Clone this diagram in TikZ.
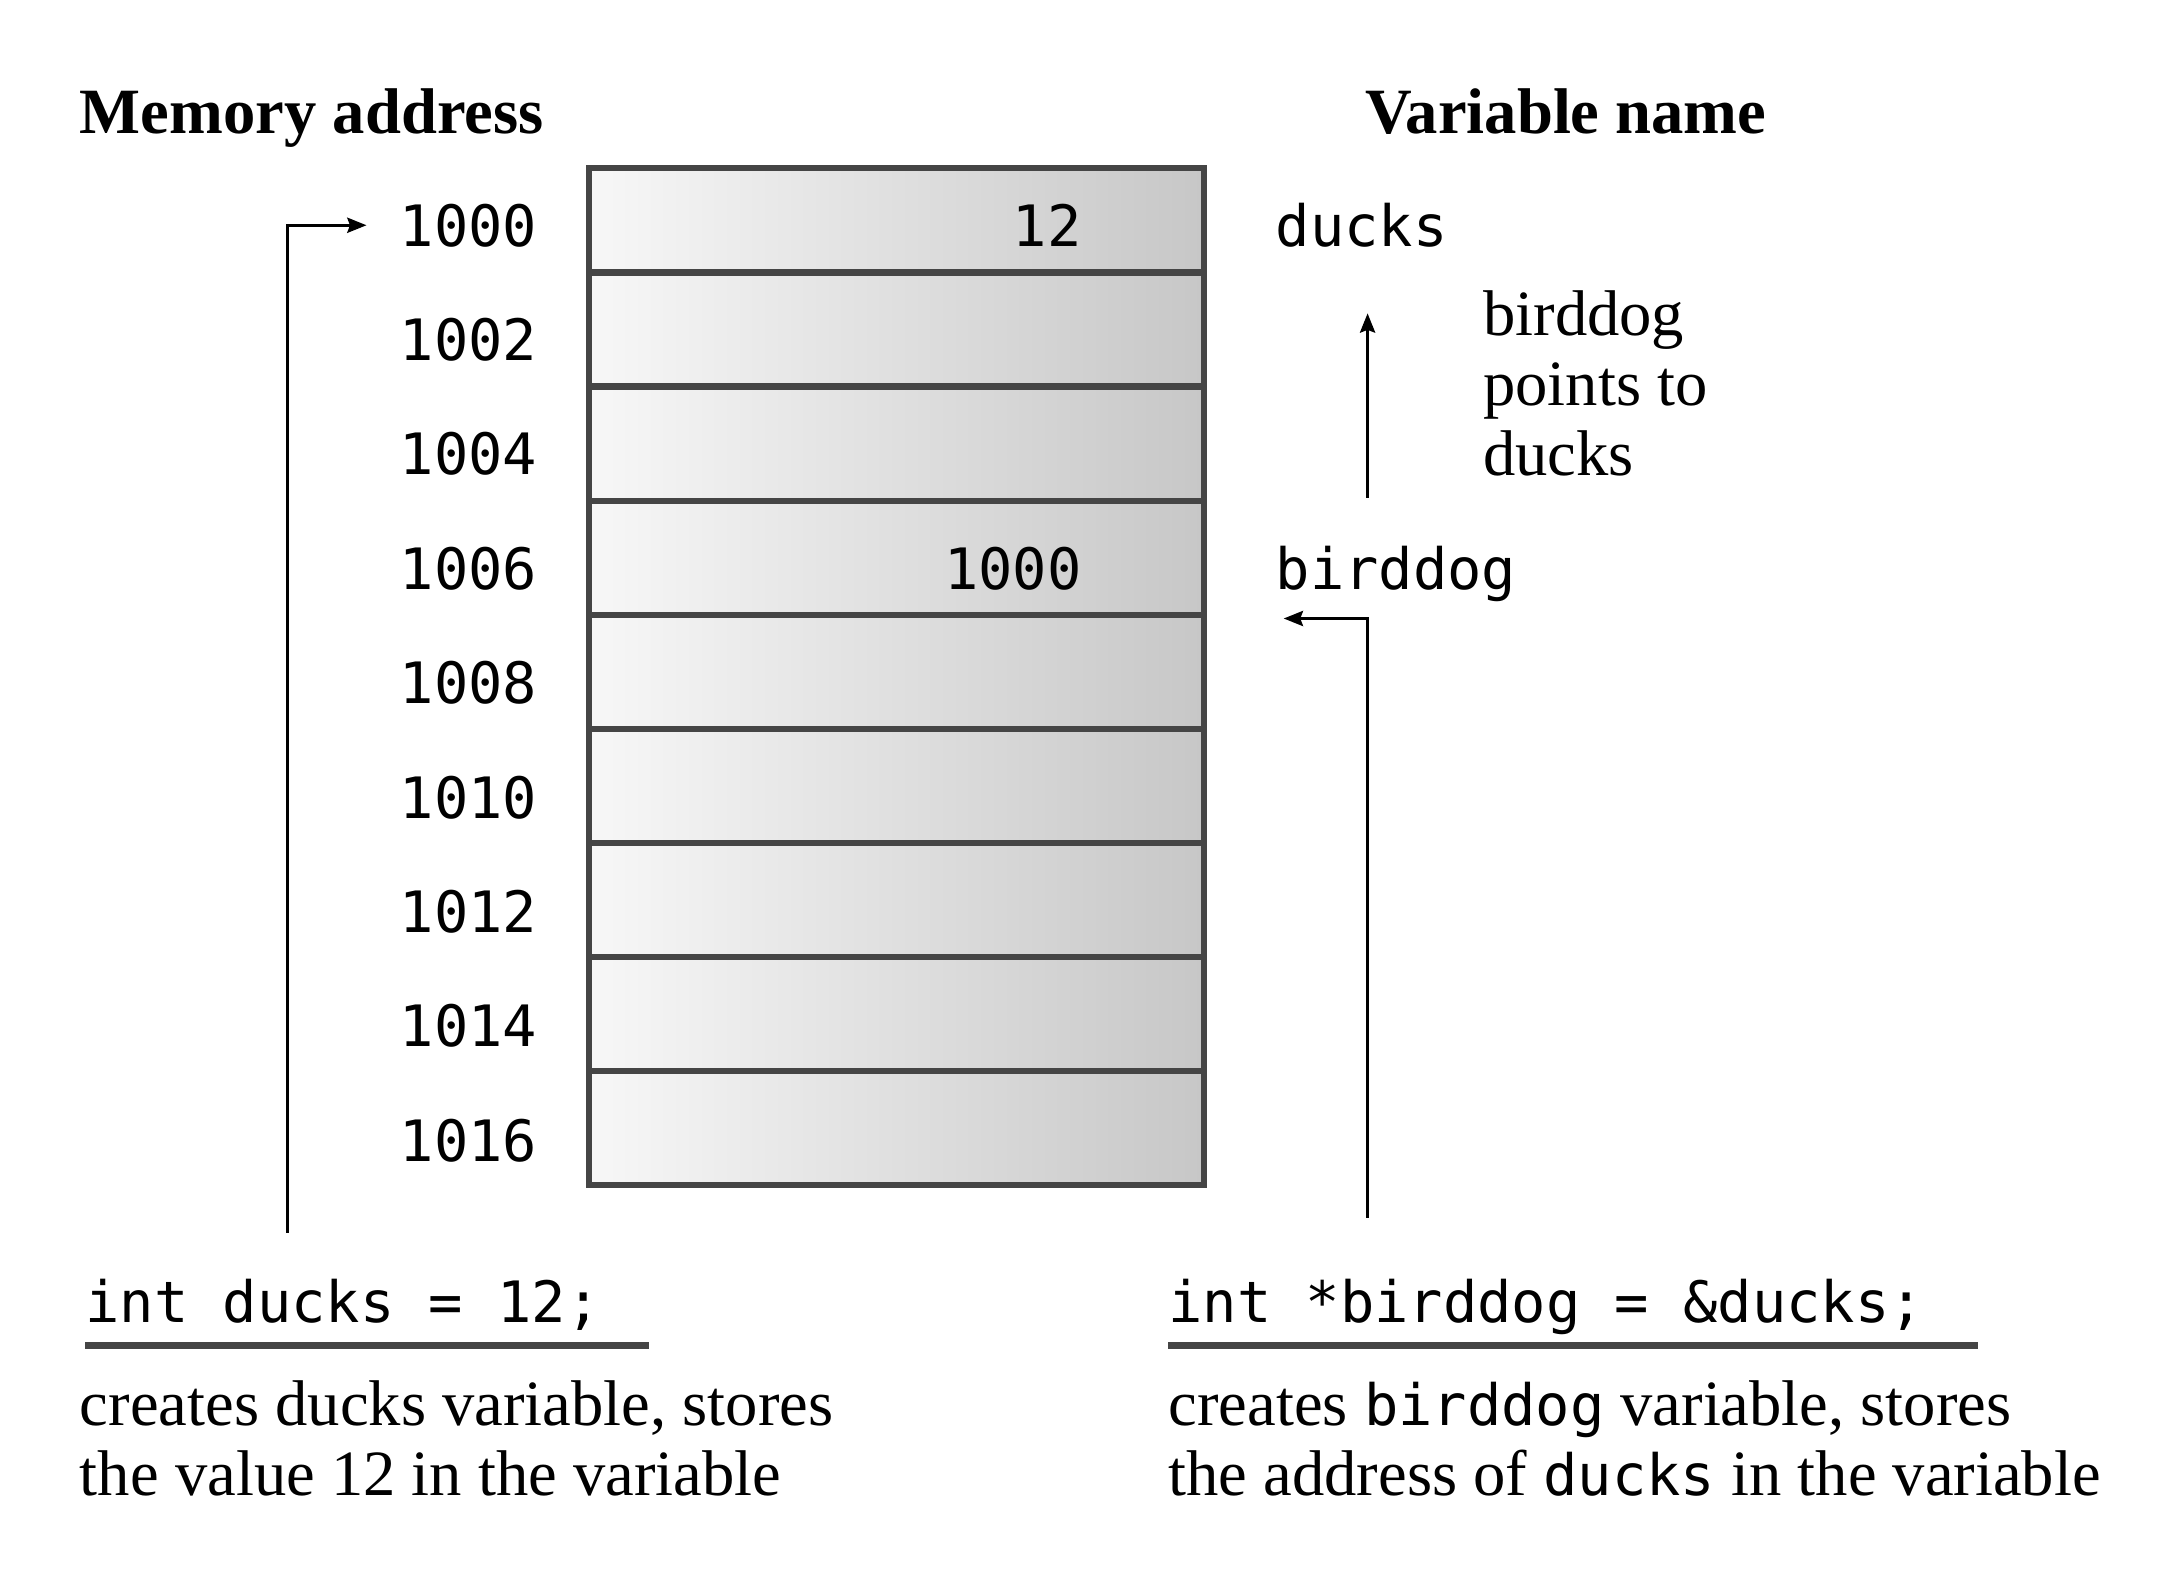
\documentclass[tikz,border=0pt]{standalone}
\usepackage{fontspec}
\setmainfont{Liberation Serif}
\setmonofont{DejaVu Sans Mono}
\usetikzlibrary{arrows.meta}
\newcommand{\mytt}[1]{{\fontsize{41.5}{48}\selectfont\ttfamily #1}}
\begin{document}
\begin{tikzpicture}[x=1pt,y=-1pt,
  ser/.style={font=\fontsize{47}{52}\selectfont, inner sep=0pt, anchor=base west},
  hd/.style={font=\fontsize{47}{52}\selectfont\bfseries, inner sep=0pt, anchor=base west},
  mono/.style={font=\fontsize{41.5}{48}\selectfont\ttfamily, inner sep=0pt},
  addr/.style={mono, anchor=base east},
  cellbox/.style={draw=black!73, line width=4.5pt, left color=black!3, right color=black!22, inner sep=0pt, minimum width=448pt, anchor=north west},
  conn/.style={line width=2.2pt, -{Stealth[length=14pt,width=11pt,inset=2pt]}},
  bar/.style={line width=5pt, draw=black!73},
]
\useasboundingbox (0,0) rectangle (1573,1145);
% headings
\node[hd] (hmem) at (58,97) {Memory address};
\node[hd] (hvar) at (993,97) {Variable name};
% memory cells
\node[cellbox, minimum height=76pt] (c0) at (426,120) {};
\foreach \k in {1,...,8}{
  \node[cellbox, minimum height=83pt] (c\k) at (426,{196+83*(\k-1)}) {};
}
% addresses
\foreach \k/\t in {0/1000,1/1002,2/1004,3/1006,4/1008,5/1010,6/1012,7/1014,8/1016}{
  \node[addr] (a\k) at (391,{179+83.25*\k}) {\t};
}
% values
\node[addr] (v0) at (787,179) {12};
\node[addr] (v3) at (787,429) {1000};
% variable names
\node[mono, anchor=base west] (nd) at (928,179) {ducks};
\node[mono, anchor=base west] (nb) at (928,429) {birddog};
% points-to note
\node[ser] (p1) at (1079,244) {birddog};
\node[ser] (p2) at (1079,295) {points to};
\node[ser] (p3) at (1079,346) {ducks};
% code
\node[mono, anchor=base west] (code1) at (62,962) {int ducks = 12;};
\node[mono, anchor=base west] (code2) at (850,962) {int *birddog = \&ducks;};
\coordinate (u1a) at (62,979); \coordinate (u1b) at (472,979);
\coordinate (u2a) at (850,979); \coordinate (u2b) at (1439,979);
\draw[bar] (u1a) -- (u1b);
\draw[bar] (u2a) -- (u2b);
% descriptions
\node[ser] (d1a) at (58,1037) {creates ducks variable, stores};
\node[ser] (d1b) at (58,1088) {the value 12 in the variable};
\node[ser] (d2a) at (850,1037) {creates \mytt{birddog} variable, stores};
\node[ser] (d2b) at (850,1088) {the address of \mytt{ducks} in the variable};
% connectors
\coordinate (la) at (209,897);
\draw[conn] (la) |- ([xshift=-24pt]a0.west);
\coordinate (ra) at (995,886);
\coordinate (rt) at (934,450);
\draw[conn] (ra) |- (rt);
\coordinate (ua) at (995,362);
\coordinate (ub) at (995,228);
\draw[conn] (ua) -- (ub);
\end{tikzpicture}
\end{document}
